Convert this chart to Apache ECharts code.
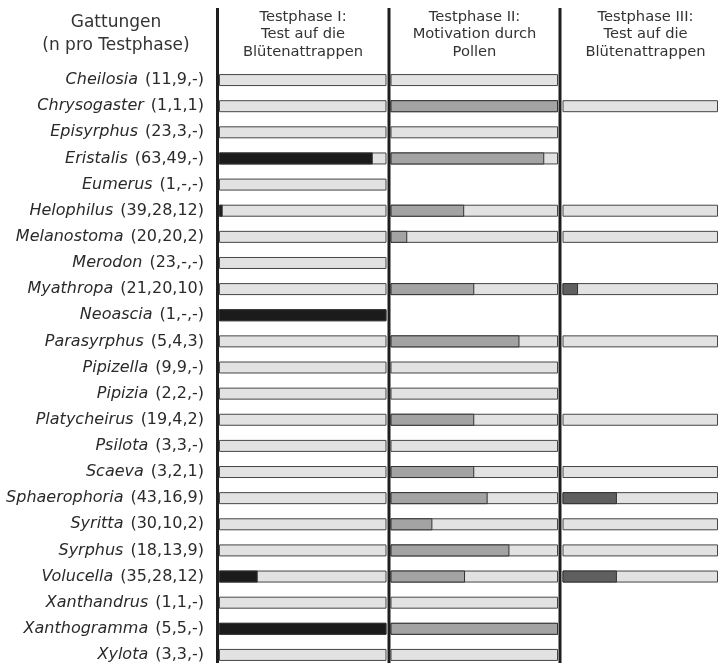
<!DOCTYPE html>
<html><head><meta charset="utf-8">
<script src="https://cdn.jsdelivr.net/npm/echarts@6/dist/echarts.min.js"></script>
<style>html,body{margin:0;padding:0;background:#fff;overflow:hidden}#c{width:718px;height:690px}</style>
</head><body><div id="c"></div>
<script>
const genera = ['Cheilosia','Chrysogaster','Episyrphus','Eristalis','Eumerus','Helophilus','Melanostoma','Merodon','Myathropa','Neoascia','Parasyrphus','Pipizella','Pipizia','Platycheirus','Psilota','Scaeva','Sphaerophoria','Syritta','Syrphus','Volucella','Xanthandrus','Xanthogramma','Xylota'];
const n1 = [11,1,23,63,1,39,20,23,21,1,5,9,2,19,3,3,43,30,18,35,1,5,3];
const n2 = [9,1,3,49,null,28,20,null,20,null,4,9,2,4,3,2,16,10,13,28,1,5,3];
const n3 = [null,1,null,null,null,12,2,null,10,null,3,null,null,2,null,1,9,2,9,12,null,null,null];
const p1 = [0,0,0,0.918,0,0.022,0,0,0,1,0,0,0,0,0,0,0,0,0,0.231,0,1,0];
const p2 = [0,1,0,0.918,null,0.44,0.10,null,0.5,null,0.77,0,0,0.5,0,0.5,0.58,0.25,0.71,0.445,0,1,0];
const p3 = [null,0,null,null,null,0,0,null,0.1,null,0,null,null,0,null,0,0.35,0,0,0.35,null,null,null];
const panelTitles = ['Testphase I:\nTest auf die\nBlütenattrappen','Testphase II:\nMotivation durch\nPollen','Testphase III:\nTest auf die\nBlütenattrappen'];
const headerTitle = 'Gattungen\n(n pro Testphase)';

const fillColors = ['#1b1b1b','#a3a3a3','#5f5f5f'];
const FONT = 'DejaVu Sans';
const grids = [{left:219,width:167.5},{left:390.5,width:167.5},{left:562.5,width:168}];
const ns = [n1,n2,n3], ps = [p1,p2,p3];
const fmt = v => v==null ? '-' : String(v);

const option = {
  animation:false,
  backgroundColor:'#fff',
  grid: grids.map(g => ({left:g.left, width:g.width, top:67, height:601, containLabel:false})),
  xAxis: grids.map((g,i) => ({gridIndex:i, type:'value', min:0, max:1, show:false})),
  yAxis: grids.map((g,i) => ({
    gridIndex:i, type:'category', data:genera, inverse:true,
    axisLine:{show:false}, axisTick:{show:false}, splitLine:{show:false},
    axisLabel: i===0 ? {
      show:true, margin:15, align:'right',
      formatter:(val, idx) => `{i|${val}}{n|(${fmt(n1[idx])},${fmt(n2[idx])},${fmt(n3[idx])})}`,
      rich:{
        i:{fontFamily:FONT, fontSize:16, fontStyle:'italic', color:'#2a2a2a', padding:[0,7,0,0]},
        n:{fontFamily:FONT, fontSize:16, color:'#2a2a2a'}
      }
    } : {show:false}
  })),
  series: [],
  graphic: []
};
for (let i=0;i<3;i++){
  option.series.push({
    type:'bar', xAxisIndex:i, yAxisIndex:i, barWidth:12, barGap:'-100%',
    data: ns[i].map(v => v==null ? null : 1),
    itemStyle:{color:'#e2e2e2', borderColor:'#454545', borderWidth:1},
    silent:true, z:2
  });
  option.series.push({
    type:'bar', xAxisIndex:i, yAxisIndex:i, barWidth:12, barGap:'-100%',
    data: ps[i].map(v => (v==null || v===0) ? null : v),
    itemStyle:{color:fillColors[i], borderColor:'#333', borderWidth:1},
    silent:true, z:3
  });
}
// divider lines
[217.5, 389, 560].forEach(x => option.graphic.push({
  type:'line', shape:{x1:x,y1:8,x2:x,y2:690}, style:{stroke:'#1e1e1e', lineWidth:3}, z:10
}));
// headers
option.graphic.push({type:'text', x:116, y:11, style:{text:headerTitle, font:'17px "DejaVu Sans"', fill:'#333', textAlign:'center', lineHeight:23}});
const centers = [303, 474.5, 645.5];
panelTitles.forEach((t,i) => option.graphic.push({type:'text', x:centers[i], y:8, style:{text:t, font:'14.7px "DejaVu Sans"', fill:'#333', textAlign:'center', lineHeight:17.5}}));

const chart = echarts.init(document.getElementById('c'), null, {renderer:'canvas'});
chart.setOption(option);
</script>
</body></html>
